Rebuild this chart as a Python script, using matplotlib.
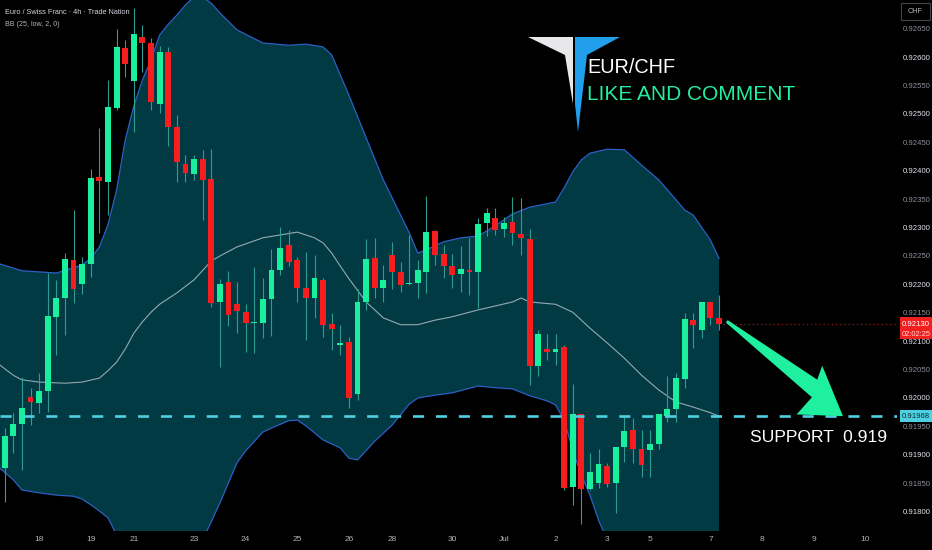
import numpy as np
import matplotlib
matplotlib.use("Agg")
import matplotlib.pyplot as plt
from matplotlib.patches import Polygon, Rectangle

plt.rcParams['font.family'] = ['Liberation Sans', 'DejaVu Sans']
plt.rcParams['lines.scale_dashes'] = False

# ---------------- data (EUR/CHF 4h candles) ----------------
opens = [0.91877, 0.91933, 0.91954, 0.92002, 0.91991, 0.92012, 0.92143, 0.92176, 0.92243, 0.92201,
         0.92236, 0.92389, 0.92380, 0.92511, 0.92616, 0.92558, 0.92636, 0.92625, 0.92518, 0.92609,
         0.92477, 0.92412, 0.92394, 0.92421, 0.92386, 0.92169, 0.92204, 0.92165, 0.92151, 0.92132,
         0.92132, 0.92174, 0.92225, 0.92269, 0.92243, 0.92194, 0.92176, 0.92208, 0.92130, 0.92093,
         0.92099, 0.92007, 0.92169, 0.92246, 0.92194, 0.92252, 0.92222, 0.92201, 0.92202, 0.92222,
         0.92294, 0.92254, 0.92232, 0.92218, 0.92225, 0.92222, 0.92308, 0.92317, 0.92298, 0.92310,
         0.92289, 0.92280, 0.92056, 0.92086, 0.92081, 0.92090, 0.91843, 0.91972, 0.91840, 0.91850,
         0.91880, 0.91850, 0.91914, 0.91944, 0.91910, 0.91908, 0.91919, 0.91968, 0.91981, 0.92033,
         0.92137, 0.92120, 0.92169, 0.92141]
highs = [0.91947, 0.91974, 0.92037, 0.92018, 0.92044, 0.92220, 0.92208, 0.92255, 0.92331, 0.92248,
         0.92403, 0.92475, 0.92560, 0.92650, 0.92630, 0.92687, 0.92657, 0.92634, 0.92620, 0.92618,
         0.92498, 0.92428, 0.92428, 0.92437, 0.92438, 0.92210, 0.92224, 0.92204, 0.92165, 0.92231,
         0.92211, 0.92262, 0.92301, 0.92296, 0.92248, 0.92257, 0.92252, 0.92211, 0.92150, 0.92129,
         0.92107, 0.92192, 0.92280, 0.92282, 0.92234, 0.92275, 0.92239, 0.92287, 0.92243, 0.92356,
         0.92296, 0.92269, 0.92254, 0.92268, 0.92282, 0.92317, 0.92335, 0.92335, 0.92319, 0.92354,
         0.92352, 0.92298, 0.92120, 0.92113, 0.92113, 0.92093, 0.92025, 0.91972, 0.91903, 0.91910,
         0.91886, 0.91914, 0.91968, 0.91965, 0.91944, 0.91944, 0.91972, 0.92039, 0.92044, 0.92150,
         0.92150, 0.92169, 0.92169, 0.92181]
lows = [0.91817, 0.91903, 0.91873, 0.91952, 0.91974, 0.91975, 0.92076, 0.92111, 0.92167, 0.92183,
        0.92213, 0.92291, 0.92322, 0.92507, 0.92565, 0.92468, 0.92574, 0.92507, 0.92502, 0.92444,
        0.92380, 0.92380, 0.92384, 0.92313, 0.92160, 0.92055, 0.92127, 0.92114, 0.92081, 0.92079,
        0.92106, 0.92109, 0.92217, 0.92232, 0.92169, 0.92102, 0.92141, 0.92107, 0.92085, 0.92076,
        0.91982, 0.91996, 0.92155, 0.92176, 0.92169, 0.92192, 0.92187, 0.92199, 0.92176, 0.92185,
        0.92234, 0.92211, 0.92194, 0.92187, 0.92181, 0.92158, 0.92285, 0.92287, 0.92283, 0.92269,
        0.92252, 0.92023, 0.92039, 0.92067, 0.92058, 0.91838, 0.91812, 0.91778, 0.91838, 0.91842,
        0.91843, 0.91798, 0.91887, 0.91886, 0.91861, 0.91861, 0.91910, 0.91958, 0.91958, 0.92018,
        0.92088, 0.92106, 0.92129, 0.92120]
closes = [0.91933, 0.91954, 0.91982, 0.91993, 0.92012, 0.92144, 0.92176, 0.92245, 0.92192, 0.92236,
          0.92387, 0.92382, 0.92512, 0.92618, 0.92588, 0.92641, 0.92625, 0.92521, 0.92609, 0.92477,
          0.92415, 0.92396, 0.92421, 0.92384, 0.92167, 0.92201, 0.92146, 0.92153, 0.92132, 0.92134,
          0.92174, 0.92225, 0.92264, 0.92239, 0.92194, 0.92176, 0.92211, 0.92129, 0.92121, 0.92097,
          0.92000, 0.92169, 0.92245, 0.92194, 0.92208, 0.92222, 0.92199, 0.92202, 0.92225, 0.92292,
          0.92252, 0.92232, 0.92217, 0.92227, 0.92222, 0.92306, 0.92326, 0.92296, 0.92308, 0.92291,
          0.92282, 0.92056, 0.92113, 0.92081, 0.92086, 0.91842, 0.91972, 0.91840, 0.91870, 0.91884,
          0.91849, 0.91914, 0.91942, 0.91910, 0.91882, 0.91919, 0.91972, 0.91981, 0.92035, 0.92139,
          0.92129, 0.92169, 0.92141, 0.92130]

# Bollinger band (25, low, 2)
upper_idx = [-1, 2, 6, 9, 10, 11, 12, 13, 14, 15, 16, 17, 18, 19, 20, 21, 22, 23, 24, 25, 27, 30, 33, 35, 37,
             38, 40, 42, 44, 46, 47, 48, 49, 51, 53, 55, 57, 59, 61, 64, 65, 66, 67, 68, 70, 72, 74, 76, 78,
             79, 80, 82, 83]
upper = [0.92238, 0.92224, 0.92220, 0.92234, 0.92246, 0.92266, 0.92305, 0.92366, 0.92454, 0.92514,
         0.92560, 0.92595, 0.92639, 0.92658, 0.92674, 0.92692, 0.92706, 0.92706, 0.92695, 0.92678,
         0.92648, 0.92625, 0.92621, 0.92623, 0.92618, 0.92604, 0.92533, 0.92458, 0.92384, 0.92322,
         0.92291, 0.92255, 0.92261, 0.92275, 0.92282, 0.92285, 0.92303, 0.92324, 0.92336, 0.92345,
         0.92370, 0.92398, 0.92419, 0.92431, 0.92438, 0.92437, 0.92410, 0.92384, 0.92349, 0.92331,
         0.92322, 0.92278, 0.92246]
lower_idx = [-1, 1, 2, 4, 6, 8, 9, 10, 11, 12, 13, 14, 16, 19, 22, 23, 24, 25, 27, 28, 30, 31, 33, 34, 35,
             37, 39, 40, 41, 43, 45, 47, 48, 50, 52, 55, 57, 59, 61, 63, 64, 65, 66, 67, 68, 69, 70, 72, 76,
             80, 83]
lower = [0.91882, 0.91856, 0.91838, 0.91833, 0.91829, 0.91827, 0.91822, 0.91812, 0.91801, 0.91789,
         0.91759, 0.91741, 0.91729, 0.91724, 0.91732, 0.91750, 0.91782, 0.91815, 0.91886, 0.91907,
         0.91940, 0.91947, 0.91960, 0.91961, 0.91951, 0.91926, 0.91912, 0.91894, 0.91891, 0.91924,
         0.91952, 0.91989, 0.92000, 0.92005, 0.92009, 0.92021, 0.92018, 0.92016, 0.92004, 0.91995,
         0.91988, 0.91961, 0.91908, 0.91864, 0.91829, 0.91785, 0.91750, 0.91724, 0.91706, 0.91715,
         0.91724]
mid_idx = [-1, 1, 2, 4, 7, 9, 11, 12, 13, 14, 15, 16, 17, 18, 20, 22, 24, 25, 27, 30, 32, 34, 36, 37, 38,
           39, 40, 42, 44, 46, 48, 50, 52, 55, 57, 59, 60, 61, 64, 66, 68, 70, 72, 74, 76, 78, 80, 82, 83]
middle = [0.92063, 0.92040, 0.92032, 0.92028, 0.92026, 0.92028, 0.92035, 0.92048, 0.92063, 0.92086,
          0.92114, 0.92134, 0.92151, 0.92165, 0.92185, 0.92208, 0.92241, 0.92250, 0.92266, 0.92282,
          0.92287, 0.92292, 0.92282, 0.92273, 0.92255, 0.92232, 0.92210, 0.92169, 0.92141, 0.92129,
          0.92129, 0.92137, 0.92143, 0.92155, 0.92162, 0.92169, 0.92176, 0.92169, 0.92165, 0.92151,
          0.92123, 0.92097, 0.92070, 0.92040, 0.92014, 0.91993, 0.91984, 0.91974, 0.91968]

tick_idx = [4, 10, 15, 22, 28, 34, 40, 45, 52, 58, 64, 70, 75, 82, 88, 94, 100]
tick_labels = ['18', '19', '21', '23', '24', '25', '26', '28', '30', 'Jul', '2', '3', '5', '7', '8', '9', '10']
price_ticks = [0.918 + 0.0005 * k for k in range(18)]

support_level = 0.91968
last_price = 0.92130
countdown = '02:02:25'
arrow_from = (83.9, 0.92135)
arrow_to = (97.4, 0.91968)

# ---------------- style ----------------
BG = '#000000'
GREEN = '#19f09d'
RED = '#f51d1d'
WICK = '#2f9c92'
BAND_FILL = '#013a43'
BAND_LINE = '#2d5fc4'
MID_LINE = '#93abaf'
CYAN = '#4dd0e1'

W, H = 932, 550
fig = plt.figure(figsize=(W / 100, H / 100), dpi=100, facecolor=BG)
ax = fig.add_axes([0, 19 / H, 897 / W, 531 / H])
ax.set_facecolor(BG)
for s in ax.spines.values():
    s.set_visible(False)
ax.set_xlim(-0.546, 103.68)
ax.set_ylim(0.917658, 0.927007)

# Bollinger band
poly_x = list(upper_idx) + list(lower_idx[::-1])
poly_y = list(upper) + list(lower[::-1])
ax.fill(poly_x, poly_y, color=BAND_FILL, lw=0, zorder=1)
ax.plot(upper_idx, upper, color=BAND_LINE, lw=0.9, zorder=2)
ax.plot(lower_idx, lower, color=BAND_LINE, lw=0.9, zorder=2)
ax.plot(mid_idx, middle, color=MID_LINE, lw=0.8, zorder=2)

# candles
o = np.array(opens); h = np.array(highs); l = np.array(lows); c = np.array(closes)
x = np.arange(len(o))
up = c >= o
cols = np.where(up, GREEN, RED)
ax.vlines(x, l, h, colors=WICK, lw=0.8, zorder=3)
body_bottom = np.minimum(o, c)
body_h = np.maximum(np.abs(c - o), 0.00002)
ax.bar(x, body_h, bottom=body_bottom, width=0.68, color=cols, linewidth=0, zorder=4)

# current price dotted line
ax.hlines(last_price, 83.5, 103.68, colors='#8b1c1c', lw=0.8, linestyles=(0, (1, 2)), zorder=3)

# support line
ax.axhline(support_level, color=CYAN, lw=1.9, dashes=(8, 8.5), zorder=5)

# support text
ax.text(86.6, 0.919225, 'SUPPORT  0.919', color='white', fontsize=12.6, ha='left',
        va='baseline', zorder=7)

# axes ticks
ax.yaxis.tick_right()
ax.set_yticks(price_ticks)
ax.set_yticklabels([f"{v:.5f}" for v in price_ticks])
ax.tick_params(axis='y', length=0, pad=4, labelsize=5.6)
for k, lab in enumerate(ax.get_yticklabels()):
    lab.set_color('#e0e3eb' if k % 2 == 0 else '#8a8e99')
ax.set_xticks(tick_idx)
ax.set_xticklabels(tick_labels)
ax.tick_params(axis='x', length=0, pad=3.5, labelsize=6.0, colors='#b2b5be')

# arrow (computed in display space from data endpoints)
t = ax.transData.transform(arrow_from)
hd = ax.transData.transform(arrow_to)
d = hd - t
u = d / np.hypot(*d)
n = np.array([-u[1], u[0]])
pts = [t + n * 1.5,
       hd - u * 43 + n * 12,
       hd - u * 48 + n * 26,
       hd,
       hd - u * 37 - n * 28,
       hd - u * 36 - n * 5,
       t - n * 1.5]
pts = ax.transData.inverted().transform(np.array(pts))
ax.add_patch(Polygon(pts, closed=True, facecolor='#1ef0a0', edgecolor='none', zorder=8))

# price axis boxes (figure pixel placement)
def fy(yd):
    return yd / H

yd_last = ax.transData.transform((0, last_price))[1]
fig.add_artist(Rectangle((900 / W, fy(yd_last - 15)), 32 / W, 22 / H, facecolor='#f21f1f',
                         edgecolor='none', zorder=5))
fig.text(916 / W, fy(yd_last), f"{last_price:.5f}", color='white', fontsize=5.6,
         ha='center', va='center', zorder=6)
fig.text(916 / W, fy(yd_last - 10), countdown, color='#ffd6d6', fontsize=5.4,
         ha='center', va='center', zorder=6)

yd_sup = ax.transData.transform((0, support_level))[1]
fig.add_artist(Rectangle((900 / W, fy(yd_sup - 6)), 32 / W, 12 / H, facecolor=CYAN,
                         edgecolor='none', zorder=5))
fig.text(916 / W, fy(yd_sup), f"{support_level:.5f}", color='#0b2b33', fontsize=5.6,
         ha='center', va='center', zorder=6)

# CHF box
fig.add_artist(Rectangle((901 / W, 1 - 20 / H), 29 / W, 17 / H, facecolor=BG,
                         edgecolor='#434651', lw=0.8, zorder=5))
fig.text(915.5 / W, 1 - 11.5 / H, 'CHF', color='#b2b5be', fontsize=5.2,
         ha='center', va='center', zorder=6)

# header
fig.text(5 / W, 1 - 12 / H, 'Euro / Swiss Franc · 4h · Trade Nation', color='#d1d4dc',
         fontsize=5.3, ha='left', va='center')
fig.text(5 / W, 1 - 24.5 / H, 'BB (25, low, 2, 0)', color='#b2b5be',
         fontsize=5.1, ha='left', va='center')

# logo
def fp(X, Y):
    return (X / W, 1 - Y / H)

fig.add_artist(Polygon([fp(528, 37), fp(573, 37), fp(573, 104), fp(565, 55)],
                       closed=True, facecolor='#e8e8ea', edgecolor='none'))
fig.add_artist(Polygon([fp(575, 37), fp(620, 37), fp(587, 55), fp(578, 132), fp(575, 104)],
                       closed=True, facecolor='#229fec', edgecolor='none'))
fig.text(587 / W, 1 - 73 / H, 'EUR/CHF', color='white', fontsize=14.3, ha='left', va='baseline')
fig.text(587 / W, 1 - 100 / H, 'LIKE AND COMMENT', color='#22ee9d', fontsize=15.0,
         ha='left', va='baseline')

fig.savefig('out.png', dpi=100, facecolor=BG)
